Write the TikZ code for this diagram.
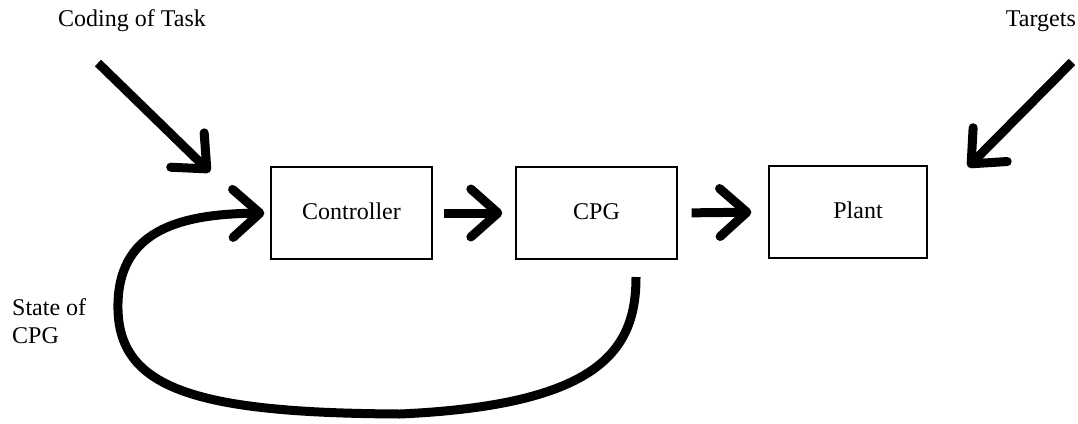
\documentclass[tikz,border=0pt]{standalone}
\usepackage{fontspec}
\setmainfont{Liberation Serif}
\usetikzlibrary{arrows.meta}
\begin{document}
\begin{tikzpicture}[x=1pt,y=-1pt,
  blockbox/.style={draw,line width=1.3pt,minimum width=161pt,minimum height=92pt,inner sep=0pt,font=\fontsize{24}{28}\selectfont},
  lbl/.style={font=\fontsize{24}{28}\selectfont,inner sep=0pt},
  bigarrow/.style={line width=9pt,-{Straight Barb[length=27pt,width=48pt,round]}}]
\path[use as bounding box] (0,0) rectangle (1078,423);
\node[blockbox] (ctrl) at (351.5,213) {\raisebox{4pt}{Controller}};
\node[blockbox] (cpg) at (596.5,213) {\raisebox{3pt}{CPG}};
\node[blockbox,minimum width=158pt] (plant) at (848,212) {\raisebox{3pt}{\hspace{20pt}Plant}};
\node[lbl,anchor=base west] (coding) at (58,27) {Coding of Task};
\node[lbl,anchor=base east] (targets) at (1076,26) {Targets};
\node[lbl,anchor=base west] (state) at (12,315) {State of};
\node[lbl,anchor=base west] (statecpg) at (12,343) {CPG};
\coordinate (codestart) at (98,63);
\coordinate (codeend) at (210,172);
\coordinate (tgtstart) at (1072,62);
\coordinate (tgtend) at (968,167);
\coordinate (fbstart) at (636,277);
\coordinate (fbleft) at (118,310);
\coordinate (fbbottom) at (400,414);
\draw[bigarrow] (codestart) -- (codeend);
\draw[bigarrow] (tgtstart) -- (tgtend);
\draw[bigarrow,shorten <=11pt,shorten >=13pt] (ctrl.east) -- (cpg.west);
\draw[bigarrow,shorten <=14pt,shorten >=17pt] (cpg.east) -- (plant.west);
\draw[bigarrow,shorten >=6pt] (fbstart) .. controls (636,350) and (600,405) .. (fbbottom)
  .. controls (200,413) and (120,390) .. (fbleft)
  .. controls (116,230) and (180,214) .. (ctrl.west);
\end{tikzpicture}
\end{document}
